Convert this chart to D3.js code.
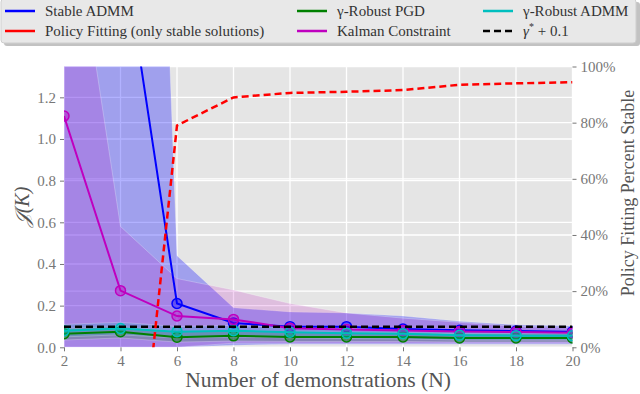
<!DOCTYPE html>
<html><head><meta charset="utf-8">
<script src="https://cdn.jsdelivr.net/npm/d3@7"></script>
<style>body{margin:0;background:#fff}svg{display:block}
svg text{font-family:"Liberation Serif","Times New Roman","DejaVu Serif",serif !important;}
</style>
</head><body>
<svg id="c" width="640" height="394"></svg>
<script>
// ---- data ----
const demos = [2,4,6,8,10,12,14,16,18,20];
const xTicks = [2,4,6,8,10,12,14,16,18,20];
const yTicks = [0.0,0.2,0.4,0.6,0.8,1.0,1.2];
const pctTicks = [0,20,40,60,80,100];

const stableADMM   = [3.5, 2.0, 0.21, 0.117, 0.099, 0.099, 0.088, 0.082, 0.078, 0.075];
const stableLo     = [0.0, 0.0, 0.0, 0.01, 0.015, 0.015, 0.015, 0.015, 0.015, 0.015];
const stableHi     = [9.0, 7.7, 0.44, 0.19, 0.17, 0.165, 0.15, 0.125, 0.108, 0.102];

const kalman       = [1.11, 0.272, 0.15, 0.134, 0.092, 0.086, 0.081, 0.076, 0.073, 0.07];
const kalmanLo     = [0.0, 0.0, 0.0, 0.02, 0.02, 0.02, 0.02, 0.02, 0.02, 0.02];
const kalmanHi     = [2.36, 0.58, 0.33, 0.275, 0.21, 0.165, 0.14, 0.12, 0.1, 0.095];

const robustPGD    = [0.065, 0.075, 0.048, 0.055, 0.05, 0.05, 0.05, 0.045, 0.045, 0.045];
const robustPGDLo  = [0.035, 0.045, 0.025, 0.03, 0.028, 0.028, 0.028, 0.025, 0.025, 0.025];
const robustPGDHi  = [0.09, 0.1, 0.075, 0.08, 0.075, 0.072, 0.07, 0.065, 0.065, 0.065];

const robustADMM   = [0.08, 0.09, 0.075, 0.08, 0.072, 0.068, 0.065, 0.058, 0.056, 0.055];
const robustADMMLo = [0.05, 0.06, 0.045, 0.05, 0.045, 0.042, 0.04, 0.035, 0.035, 0.035];
const robustADMMHi = [0.11, 0.12, 0.1, 0.105, 0.095, 0.092, 0.09, 0.082, 0.08, 0.078];

const gammaRef     = [0.099, 0.099, 0.099, 0.099, 0.099, 0.099, 0.099, 0.099, 0.099, 0.099];
const policyPct    = [null, -110, 79, 89, 90.6, 91, 91.6, 93.5, 94, 94.4];

// ---- layout ----
const svg = d3.select("#c");
const L = 64, R = 572.5, T = 66.5, B = 347.3;
const x = d3.scaleLinear().domain([2,20]).range([L,R]);
const y = d3.scaleLinear().domain([0,1.348]).range([B,T]);
const y2 = d3.scaleLinear().domain([0,100]).range([B,T]);

svg.append("rect").attr("x",L).attr("y",T).attr("width",R-L).attr("height",B-T).attr("fill","#e5e5e5");

svg.append("defs").append("clipPath").attr("id","clip")
  .append("rect").attr("x",L).attr("y",T).attr("width",R-L).attr("height",B-T);

// grid
const grid = svg.append("g");
xTicks.forEach(t=>grid.append("line").attr("x1",x(t)).attr("x2",x(t)).attr("y1",T).attr("y2",B).attr("stroke","#fff").attr("stroke-width",1.3));
yTicks.forEach(t=>grid.append("line").attr("x1",L).attr("x2",R).attr("y1",y(t)).attr("y2",y(t)).attr("stroke","#fff").attr("stroke-width",1.3));
pctTicks.forEach(t=>grid.append("line").attr("x1",L).attr("x2",R).attr("y1",y2(t)).attr("y2",y2(t)).attr("stroke","#fff").attr("stroke-width",1.3));

const plot = svg.append("g").attr("clip-path","url(#clip)");

function band(lo, hi, color, op){
  const a = d3.area().x((d,i)=>x(demos[i])).y0((d,i)=>y(lo[i])).y1((d,i)=>y(hi[i]));
  plot.append("path").datum(demos).attr("d",a).attr("fill",color).attr("fill-opacity",op)
    .attr("stroke","#fff").attr("stroke-opacity",0.25).attr("stroke-width",1);
}
band(stableLo, stableHi, "#0000ff", 0.3);
band(kalmanLo, kalmanHi, "#bf00bf", 0.17);
band(robustPGDLo, robustPGDHi, "#008000", 0.2);
band(robustADMMLo, robustADMMHi, "#00bfbf", 0.2);

function series(vals, color){
  const ln = d3.line().x((d,i)=>x(demos[i])).y(d=>y(d));
  plot.append("path").datum(vals).attr("d",ln).attr("fill","none").attr("stroke",color).attr("stroke-width",2);
  plot.selectAll(null).data(vals).enter().append("circle")
    .attr("cx",(d,i)=>x(demos[i])).attr("cy",d=>y(d)).attr("r",5)
    .attr("fill",color).attr("fill-opacity",0.4).attr("stroke",color).attr("stroke-width",1.5);
}
series(stableADMM, "#0000ff");
series(robustPGD, "#008000");
series(kalman, "#bf00bf");
series(robustADMM, "#00bfbf");

// gamma reference
plot.append("path").datum(gammaRef)
  .attr("d", d3.line().x((d,i)=>x(demos[i])).y(d=>y(d)))
  .attr("fill","none").attr("stroke","#000").attr("stroke-width",2.5).attr("stroke-dasharray","7,4");

// policy fitting (right axis)
plot.append("path").datum(policyPct)
  .attr("d", d3.line().defined(d=>d!==null).x((d,i)=>x(demos[i])).y(d=>y2(d)))
  .attr("fill","none").attr("stroke","#ff0000").attr("stroke-width",2.5).attr("stroke-dasharray","7,4");

// axes
const tickCol = "#777";
const ax = svg.append("g").attr("transform",`translate(0,${B})`)
  .call(d3.axisBottom(x).tickValues(xTicks).tickFormat(d3.format("d")).tickSize(4).tickPadding(4));
const ay = svg.append("g").attr("transform",`translate(${L},0)`)
  .call(d3.axisLeft(y).tickValues(yTicks).tickFormat(d3.format(".1f")).tickSize(4).tickPadding(4));
const ay2 = svg.append("g").attr("transform",`translate(${R},0)`)
  .call(d3.axisRight(y2).tickValues(pctTicks).tickFormat(d=>d+"%").tickSize(4).tickPadding(4));
[ax,ay,ay2].forEach(g=>{
  g.select(".domain").remove();
  g.selectAll(".tick line").attr("stroke",tickCol);
  g.selectAll(".tick text").attr("fill",tickCol).attr("font-size",15);
});

svg.append("text").attr("x",318).attr("y",387).attr("text-anchor","middle")
  .attr("font-size",21.5).attr("fill","#555").text("Number of demonstrations (N)");
svg.append("text").attr("transform","translate(29,207) rotate(-90)").attr("text-anchor","middle")
  .attr("font-size",20).attr("fill","#555").attr("font-style","italic").text("𝒥(K)");
svg.append("text").attr("transform","translate(634,193) rotate(-90)").attr("text-anchor","middle")
  .attr("font-size",18).attr("fill","#555").text("Policy Fitting Percent Stable");

// legend
const lg = svg.append("g");
lg.append("rect").attr("x",4).attr("y",2).attr("width",636).attr("height",44).attr("rx",3).attr("fill","#999").attr("opacity",0.6);
lg.append("rect").attr("x",1).attr("y",-1).attr("width",635).attr("height",44).attr("rx",3).attr("fill","#e8e8e8").attr("stroke","#cfcfcf");
const legendItems = [
  {label:"Stable ADMM", color:"#0000ff", dash:null, lx:5, ly:11},
  {label:"Policy Fitting (only stable solutions)", color:"#ff0000", dash:null, lx:5, ly:31},
  {label:"γ-Robust PGD", color:"#008000", dash:null, lx:297, ly:11},
  {label:"Kalman Constraint", color:"#bf00bf", dash:null, lx:297, ly:31},
  {label:"γ-Robust ADMM", color:"#00bfbf", dash:null, lx:483, ly:11},
  {label:"γ* + 0.1", color:"#000", dash:"7,4", lx:483, ly:31, sup:true}
];
legendItems.forEach(it=>{
  lg.append("line").attr("x1",it.lx).attr("x2",it.lx+30).attr("y1",it.ly).attr("y2",it.ly)
    .attr("stroke",it.color).attr("stroke-width",2.5).attr("stroke-dasharray",it.dash);
  const t = lg.append("text").attr("x",it.lx+40).attr("y",it.ly+5)
    .attr("font-size",15).attr("fill","#333");
  if(it.sup){
    t.append("tspan").attr("font-style","italic").text("γ");
    t.append("tspan").attr("font-size",10).attr("dy",-6).text("*");
    t.append("tspan").attr("dy",6).text(" + 0.1");
  } else t.text(it.label);
});
</script>
</body></html>
